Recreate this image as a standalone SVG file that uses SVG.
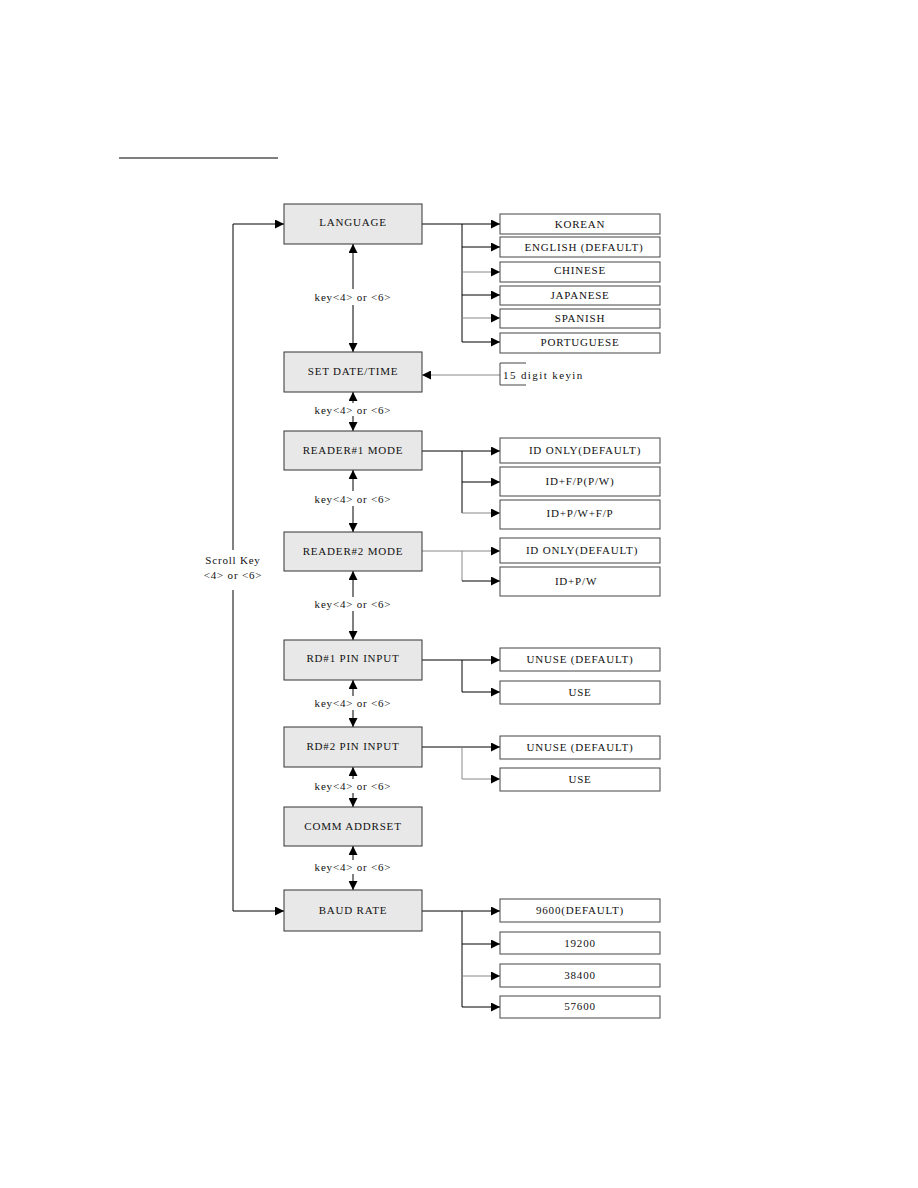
<svg xmlns="http://www.w3.org/2000/svg" width="918" height="1188" viewBox="0 0 918 1188">
<style>
text{font-family:"Liberation Serif","DejaVu Serif",serif;font-size:11px;fill:#111;letter-spacing:0.8px}
.m rect{fill:#e8e8e8;stroke:#333;stroke-width:1}
.o rect{fill:#fff;stroke:#444;stroke-width:1}
.c line,.c polyline{stroke:#000;stroke-width:1;fill:none}
.c .g{stroke:#888}
</style>
<defs>
<marker id="a" viewBox="0 0 10 10" refX="10" refY="5" markerWidth="9" markerHeight="9" markerUnits="userSpaceOnUse" orient="auto"><path d="M0,0L10,5L0,10z" fill="#000"/></marker>
</defs>
<line x1="119" y1="158" x2="278" y2="158" stroke="#000" stroke-width="1.2"/>
<g class="c" id="connectors">
<line x1="233" y1="224" x2="233" y2="550"/>
<line x1="233" y1="590" x2="233" y2="911"/>
<line x1="233" y1="224" x2="284" y2="224" marker-end="url(#a)"/>
<line x1="233" y1="911" x2="284" y2="911" marker-end="url(#a)"/>
<line x1="353" y1="289" x2="353" y2="244" marker-end="url(#a)"/>
<line x1="353" y1="305" x2="353" y2="352" marker-end="url(#a)"/>
<line x1="353" y1="403" x2="353" y2="392" marker-end="url(#a)"/>
<line x1="353" y1="416" x2="353" y2="431" marker-end="url(#a)"/>
<line x1="353" y1="491" x2="353" y2="470" marker-end="url(#a)"/>
<line x1="353" y1="506" x2="353" y2="532" marker-end="url(#a)"/>
<line x1="353" y1="597" x2="353" y2="571" marker-end="url(#a)"/>
<line x1="353" y1="611" x2="353" y2="640" marker-end="url(#a)"/>
<line x1="353" y1="696" x2="353" y2="680" marker-end="url(#a)"/>
<line x1="353" y1="710" x2="353" y2="727" marker-end="url(#a)"/>
<line x1="353" y1="779" x2="353" y2="767" marker-end="url(#a)"/>
<line x1="353" y1="793" x2="353" y2="807" marker-end="url(#a)"/>
<line x1="353" y1="860" x2="353" y2="846" marker-end="url(#a)"/>
<line x1="353" y1="874" x2="353" y2="890" marker-end="url(#a)"/>
<line x1="422" y1="224" x2="500" y2="224" marker-end="url(#a)"/>
<line x1="462" y1="224" x2="462" y2="342"/>
<line x1="462" y1="247" x2="500" y2="247" marker-end="url(#a)"/>
<line class="g" x1="462" y1="272" x2="500" y2="272" marker-end="url(#a)"/>
<line x1="462" y1="295" x2="500" y2="295" marker-end="url(#a)"/>
<line class="g" x1="462" y1="318" x2="500" y2="318" marker-end="url(#a)"/>
<line x1="462" y1="342" x2="500" y2="342" marker-end="url(#a)"/>
<line class="g" x1="500" y1="375" x2="422" y2="375" marker-end="url(#a)"/>
<line x1="422" y1="451" x2="500" y2="451" marker-end="url(#a)"/>
<line x1="462" y1="451" x2="462" y2="513"/>
<line x1="462" y1="482" x2="500" y2="482" marker-end="url(#a)"/>
<line class="g" x1="462" y1="513" x2="500" y2="513" marker-end="url(#a)"/>
<line class="g" x1="422" y1="551" x2="500" y2="551" marker-end="url(#a)"/>
<line class="g" x1="462" y1="551" x2="462" y2="581"/>
<line x1="462" y1="581" x2="500" y2="581" marker-end="url(#a)"/>
<line x1="422" y1="660" x2="500" y2="660" marker-end="url(#a)"/>
<line x1="462" y1="660" x2="462" y2="692"/>
<line x1="462" y1="692" x2="500" y2="692" marker-end="url(#a)"/>
<line x1="422" y1="747" x2="500" y2="747" marker-end="url(#a)"/>
<line class="g" x1="462" y1="747" x2="462" y2="779"/>
<line class="g" x1="462" y1="779" x2="500" y2="779" marker-end="url(#a)"/>
<line x1="422" y1="911" x2="500" y2="911" marker-end="url(#a)"/>
<line x1="462" y1="911" x2="462" y2="1007"/>
<line x1="462" y1="944" x2="500" y2="944" marker-end="url(#a)"/>
<line class="g" x1="462" y1="976" x2="500" y2="976" marker-end="url(#a)"/>
<line x1="462" y1="1007" x2="500" y2="1007" marker-end="url(#a)"/>
</g>
<g id="labels" text-anchor="middle">
<text x="353" y="301">key&lt;4&gt; or &lt;6&gt;</text>
<text x="353" y="414">key&lt;4&gt; or &lt;6&gt;</text>
<text x="353" y="503">key&lt;4&gt; or &lt;6&gt;</text>
<text x="353" y="608">key&lt;4&gt; or &lt;6&gt;</text>
<text x="353" y="707">key&lt;4&gt; or &lt;6&gt;</text>
<text x="353" y="790">key&lt;4&gt; or &lt;6&gt;</text>
<text x="353" y="871">key&lt;4&gt; or &lt;6&gt;</text>
<text x="233" y="564">Scroll Key</text>
<text x="233" y="579">&lt;4&gt; or &lt;6&gt;</text>
</g>
<g id="n-language" class="m"><rect x="284" y="204" width="138" height="40"/><text x="353" y="226" text-anchor="middle">LANGUAGE</text></g>
<g id="n-datetime" class="m"><rect x="284" y="352" width="138" height="40"/><text x="353" y="375" text-anchor="middle">SET  DATE/TIME</text></g>
<g id="n-reader1" class="m"><rect x="284" y="431" width="138" height="39"/><text x="353" y="454" text-anchor="middle">READER#1 MODE</text></g>
<g id="n-reader2" class="m"><rect x="284" y="532" width="138" height="39"/><text x="353" y="555" text-anchor="middle">READER#2 MODE</text></g>
<g id="n-rd1pin" class="m"><rect x="284" y="640" width="138" height="40"/><text x="353" y="662" text-anchor="middle">RD#1 PIN INPUT</text></g>
<g id="n-rd2pin" class="m"><rect x="284" y="727" width="138" height="40"/><text x="353" y="750" text-anchor="middle">RD#2 PIN INPUT</text></g>
<g id="n-comm" class="m"><rect x="284" y="807" width="138" height="39"/><text x="353" y="830" text-anchor="middle">COMM ADDRSET</text></g>
<g id="n-baud" class="m"><rect x="284" y="890" width="138" height="41"/><text x="353" y="914" text-anchor="middle">BAUD RATE</text></g>
<g id="o-korean" class="o"><rect x="500" y="214" width="160" height="20"/><text x="580" y="228" text-anchor="middle">KOREAN</text></g>
<g id="o-english" class="o"><rect x="500" y="237" width="160" height="20"/><text x="584" y="251" text-anchor="middle">ENGLISH (DEFAULT)</text></g>
<g id="o-chinese" class="o"><rect x="500" y="262" width="160" height="20"/><text x="580" y="274" text-anchor="middle">CHINESE</text></g>
<g id="o-japanese" class="o"><rect x="500" y="286" width="160" height="19"/><text x="580" y="299" text-anchor="middle">JAPANESE</text></g>
<g id="o-spanish" class="o"><rect x="500" y="309" width="160" height="19"/><text x="580" y="322" text-anchor="middle">SPANISH</text></g>
<g id="o-portuguese" class="o"><rect x="500" y="333" width="160" height="20"/><text x="580" y="346" text-anchor="middle">PORTUGUESE</text></g>
<g id="o-keyin"><polyline points="526,363 500,363 500,385 526,385" fill="none" stroke="#444" stroke-width="1"/><text x="503" y="379" style="letter-spacing:1.4px">15 digit keyin</text></g>
<g id="o-r1-idonly" class="o"><rect x="500" y="438" width="160" height="25"/><text x="585" y="454" text-anchor="middle">ID ONLY(DEFAULT)</text></g>
<g id="o-r1-fp" class="o"><rect x="500" y="467" width="160" height="29"/><text x="580" y="485" text-anchor="middle">ID+F/P(P/W)</text></g>
<g id="o-r1-pwfp" class="o"><rect x="500" y="500" width="160" height="29"/><text x="580" y="517" text-anchor="middle">ID+P/W+F/P</text></g>
<g id="o-r2-idonly" class="o"><rect x="500" y="538" width="160" height="25"/><text x="582" y="554" text-anchor="middle">ID ONLY(DEFAULT)</text></g>
<g id="o-r2-pw" class="o"><rect x="500" y="567" width="160" height="29"/><text x="576" y="585" text-anchor="middle">ID+P/W</text></g>
<g id="o-p1-unuse" class="o"><rect x="500" y="648" width="160" height="23"/><text x="580" y="663" text-anchor="middle">UNUSE (DEFAULT)</text></g>
<g id="o-p1-use" class="o"><rect x="500" y="681" width="160" height="23"/><text x="580" y="696" text-anchor="middle">USE</text></g>
<g id="o-p2-unuse" class="o"><rect x="500" y="736" width="160" height="23"/><text x="580" y="751" text-anchor="middle">UNUSE (DEFAULT)</text></g>
<g id="o-p2-use" class="o"><rect x="500" y="768" width="160" height="23"/><text x="580" y="783" text-anchor="middle">USE</text></g>
<g id="o-9600" class="o"><rect x="500" y="899" width="160" height="23"/><text x="580" y="914" text-anchor="middle">9600(DEFAULT)</text></g>
<g id="o-19200" class="o"><rect x="500" y="932" width="160" height="22"/><text x="580" y="947" text-anchor="middle">19200</text></g>
<g id="o-38400" class="o"><rect x="500" y="964" width="160" height="23"/><text x="580" y="979" text-anchor="middle">38400</text></g>
<g id="o-57600" class="o"><rect x="500" y="996" width="160" height="22"/><text x="580" y="1010" text-anchor="middle">57600</text></g>
</svg>
